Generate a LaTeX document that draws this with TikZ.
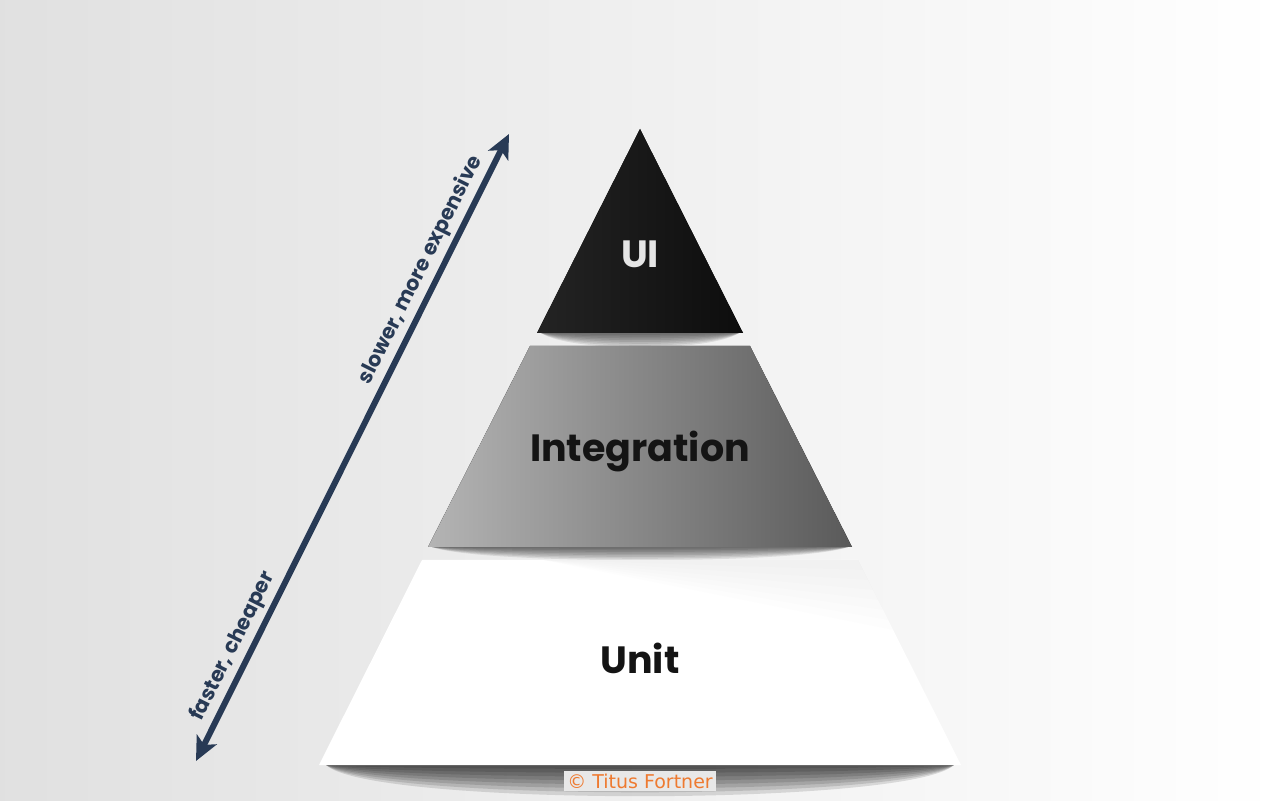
\documentclass[tikz,border=0pt]{standalone}
\usepackage{fontspec}
\newfontfamily\popfont{Poppins}
\newfontfamily\creditfont{DejaVu Sans}
\usetikzlibrary{arrows.meta}
\definecolor{navy}{HTML}{283A55}
\definecolor{intlight}{HTML}{B4B4B4}
\definecolor{intdark}{HTML}{5A5A5A}
\definecolor{creditorange}{HTML}{EE7A30}

\begin{document}
\begin{tikzpicture}[x=0.5pt, y=-0.5pt,
    >={Stealth[length=12pt, width=11pt, inset=3pt]},
    softshadow/.style={fill=black, opacity=#1},
    tier/.style={font=\popfont\bfseries\fontsize{19}{19}\selectfont, anchor=base},
    axislabel/.style={font=\popfont\bfseries\fontsize{10.4}{10}\selectfont, text=navy, sloped, above=2pt, inner sep=0pt}]
  \useasboundingbox (0,0) rectangle (1280,801);
  \shade[left color=black!12, right color=white] (0,0) rectangle (1280,801);

  \foreach \k in {1,...,8} {
    \fill[softshadow=0.09] (541,333) -- (739,333) .. controls (710,{333+2.4*\k}) and (570,{333+2.4*\k}) .. cycle;
    \fill[softshadow=0.09] (432,547) -- (848,547) .. controls (800,{547+2.2*\k}) and (480,{547+2.2*\k}) .. cycle;
    \fill[softshadow=0.12] (326,765) -- (954,765) .. controls (910,{765+5.2*\k}) and (370,{765+5.2*\k}) .. cycle;
  }

  \fill[left color=black!86, right color=black!95] (640,129) -- (743,333) -- (537,333) -- cycle;
  \fill[left color=intlight, right color=intdark] (530,346) -- (750,346) -- (852,547) -- (428,547) -- cycle;
  \fill[white] (422,560) -- (858,560) -- (961,765) -- (319,765) -- cycle;
  \foreach \d in {10,20,...,70}
    \fill[softshadow=0.007] (543,560) -- (858,560) -- ({858+0.5*\d},{560+\d}) -- cycle;

  \node[tier, text=black!10] (ui) at (640,268) {UI};
  \node[tier, text=black!92] (integration) at (640,462) {Integration};
  \node[tier, text=black!92] (unit) at (640,674) {Unit};

  \coordinate (fast) at (196,761);
  \coordinate (slow) at (509,134);
  \draw[navy, line width=3pt, <->] (fast) -- (slow)
    node[axislabel, pos=0.17] {faster, cheaper}
    node[axislabel, pos=0.77] {slower, more expensive};

  \node[fill=black!9, text=creditorange, inner sep=1.5pt,
    font=\creditfont\fontsize{9.5}{10}\selectfont] (credit) at (640,781) {© Titus Fortner};
\end{tikzpicture}
\end{document}
